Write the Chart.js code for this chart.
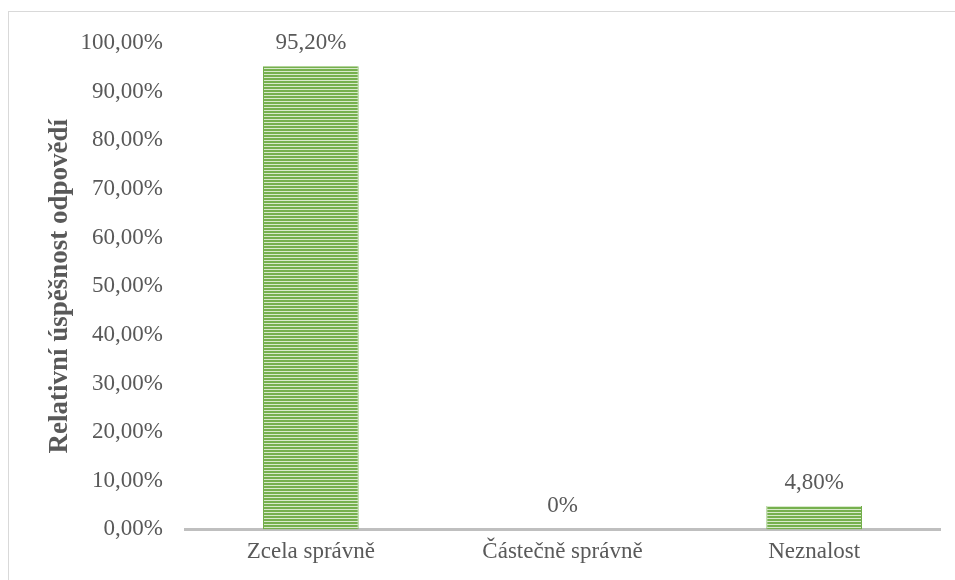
<!DOCTYPE html>
<html lang="cs">
<head>
  <meta charset="UTF-8">
  <title>Relativní úspěšnost odpovědí</title>
  <script src="https://cdn.jsdelivr.net/npm/chart.js"></script>
  <style>
    html, body {
      margin: 0;
      padding: 0;
      background: #ffffff;
      overflow: hidden;
    }
    .frame {
      position: absolute;
      left: 8px;
      top: 11px;
      width: 1000px;
      height: 700px;
      border: 1px solid #d9d9d9;
    }
    .chart-box {
      position: absolute;
      left: 0;
      top: 0;
      width: 955px;
      height: 580px;
    }
  </style>
</head>
<body>
<div class="frame"></div>
<div class="chart-box">
  <canvas id="barChart" width="955" height="580"></canvas>
</div>

<script>
  // data
  var categories = ['Zcela správně', 'Částečně správně', 'Neznalost'];
  var shares = [95.2, 0, 4.8];
  var yTicks = [0, 10, 20, 30, 40, 50, 60, 70, 80, 90, 100];

  var textColor = '#595959';
  var serif = '"Liberation Serif", "Times New Roman", serif';

  function fmtTick(v) {
    return v.toFixed(2).replace('.', ',') + '%';
  }
  function fmtLabel(v) {
    return v === 0 ? '0%' : v.toFixed(2).replace('.', ',') + '%';
  }

  // striped green fill for the bars
  function stripes() {
    var c = document.createElement('canvas');
    c.width = 4;
    c.height = 3;
    var g = c.getContext('2d');
    g.fillStyle = '#76b04e';
    g.fillRect(0, 0, 4, 2);
    g.fillStyle = '#d8eacb';
    g.fillRect(0, 2, 4, 1);
    return g.createPattern(c, 'repeat');
  }

  // value labels above the bars
  var valueLabels = {
    id: 'valueLabels',
    afterDatasetsDraw: function(chart) {
      var ctx = chart.ctx;
      var meta = chart.getDatasetMeta(0);
      ctx.save();
      ctx.font = '23px ' + serif;
      ctx.fillStyle = textColor;
      ctx.textAlign = 'center';
      ctx.textBaseline = 'alphabetic';
      meta.data.forEach(function(bar, i) {
        ctx.fillText(fmtLabel(shares[i]), bar.x, bar.y - 17);
      });
      ctx.restore();
    }
  };

  var ctx = document.getElementById('barChart').getContext('2d');
  var chart = new Chart(ctx, {
    type: 'bar',
    data: {
      labels: categories,
      datasets: [{
        data: shares,
        backgroundColor: stripes(),
        borderColor: '#70ad47',
        borderWidth: { left: 1, right: 1, top: 0, bottom: 0 },
        borderSkipped: false,
        categoryPercentage: 1,
        barPercentage: 0.38
      }]
    },
    options: {
      responsive: false,
      animation: false,
      layout: {
        padding: { left: 0, right: 15, top: 43, bottom: 5 }
      },
      plugins: {
        legend: { display: false },
        tooltip: { enabled: false }
      },
      scales: {
        x: {
          grid: { display: false, drawTicks: false },
          border: { display: true, color: '#bfbfbf', width: 3 },
          ticks: {
            color: textColor,
            padding: 9,
            font: { family: serif, size: 23 }
          }
        },
        y: {
          min: 0,
          max: 100,
          afterBuildTicks: function(scale) {
            scale.ticks = yTicks.map(function(v) { return { value: v }; });
          },
          afterFit: function(scale) {
            scale.width = 185;
          },
          grid: { display: false, drawTicks: false },
          border: { display: false },
          ticks: {
            color: textColor,
            padding: 22,
            font: { family: serif, size: 23 }
          },
          title: {
            display: true,
            text: 'Relativní úspěšnost odpovědí',
            color: textColor,
            padding: { top: 44, bottom: 0 },
            font: { family: serif, size: 27, weight: 'bold' }
          }
        }
      }
    },
    plugins: [valueLabels]
  });
  chart.options.scales.y.ticks.callback = function(v) { return fmtTick(v); };
  chart.update();
</script>
</body>
</html>
